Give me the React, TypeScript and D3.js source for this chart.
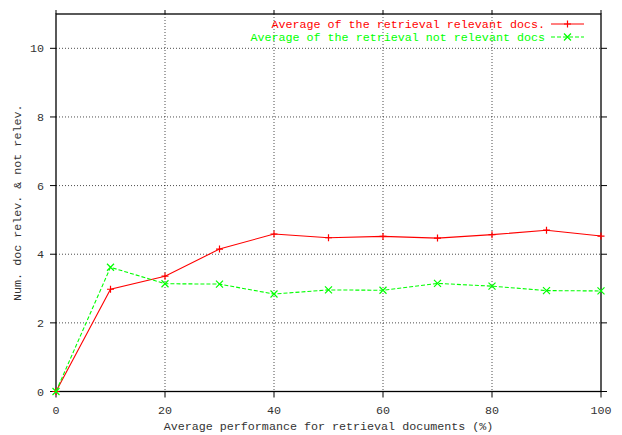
import { useEffect } from "react";
import * as d3 from "d3";

const WIDTH = 622;
const HEIGHT = 435;
const MARGIN = { top: 14, right: 21, bottom: 43.5, left: 56 };

const PERCENTS = [0, 10, 20, 30, 40, 50, 60, 70, 80, 90, 100];
const RELEVANT = [0, 2.98, 3.36, 4.15, 4.59, 4.48, 4.52, 4.47, 4.57, 4.7, 4.53];
const NOT_RELEVANT = [0, 3.62, 3.14, 3.13, 2.84, 2.96, 2.95, 3.15, 3.07, 2.94, 2.93];
const X_TICKS = [0, 20, 40, 60, 80, 100];
const Y_TICKS = [0, 2, 4, 6, 8, 10];

const SERIES = [
  { label: "Average of the retrieval relevant docs.", values: RELEVANT, color: "#ff0000", dash: "", marker: "plus" },
  { label: "Average of the retrieval not relevant docs", values: NOT_RELEVANT, color: "#00ff00", dash: "4 2", marker: "cross" }
];

const FONT = "'Liberation Mono', 'DejaVu Sans Mono', monospace";
const FONT_SIZE = 11.7;
const TEXT_COLOR = "#333";

function Marker({ x, y, kind, color }: { x: number; y: number; kind: string; color: string }) {
  const s = 3.5;
  const d =
    kind === "plus"
      ? `M${x - s},${y}H${x + s}M${x},${y - s}V${y + s}`
      : `M${x - s},${y - s}L${x + s},${y + s}M${x - s},${y + s}L${x + s},${y - s}`;
  return <path d={d} stroke={color} strokeWidth={1.2} fill="none" />;
}

export default function App() {
  useEffect(() => {
    document.body.style.margin = "0";
  }, []);

  const left = MARGIN.left;
  const right = WIDTH - MARGIN.right;
  const top = MARGIN.top;
  const bottom = HEIGHT - MARGIN.bottom;

  const x = d3.scaleLinear().domain([0, 100]).range([left, right]);
  const y = d3.scaleLinear().domain([0, 11]).range([bottom, top]);

  const line = d3
    .line<number>()
    .x((_, i) => x(PERCENTS[i]))
    .y((v) => y(v));

  return (
    <svg width={WIDTH} height={HEIGHT} style={{ display: "block", background: "#fff" }}>
      {/* grid */}
      {X_TICKS.filter((t) => t > 0 && t < 100).map((t) => (
        <line
          key={`gx${t}`}
          x1={x(t)}
          x2={x(t)}
          y1={top}
          y2={bottom}
          stroke="#000"
          strokeOpacity={0.7}
          strokeDasharray="1 2"
        />
      ))}
      {Y_TICKS.filter((t) => t > 0).map((t) => (
        <line
          key={`gy${t}`}
          x1={left}
          x2={right}
          y1={y(t)}
          y2={y(t)}
          stroke="#000"
          strokeOpacity={0.7}
          strokeDasharray="1 2"
        />
      ))}

      {/* ticks */}
      {X_TICKS.map((t) => (
        <g key={`tx${t}`}>
          <line x1={x(t)} x2={x(t)} y1={bottom} y2={bottom + 6} stroke="#000" />
          <line x1={x(t)} x2={x(t)} y1={top} y2={top - 4} stroke="#000" />
          <text
            x={x(t)}
            y={bottom + 22}
            textAnchor="middle"
            fontFamily={FONT}
            fontSize={FONT_SIZE}
            fill={TEXT_COLOR}
          >
            {t}
          </text>
        </g>
      ))}
      {Y_TICKS.map((t) => (
        <g key={`ty${t}`}>
          <line x1={left - 6} x2={left} y1={y(t)} y2={y(t)} stroke="#000" />
          <line x1={right} x2={right + 6} y1={y(t)} y2={y(t)} stroke="#000" />
          <text
            x={left - 12}
            y={y(t)}
            dy="0.35em"
            textAnchor="end"
            fontFamily={FONT}
            fontSize={FONT_SIZE}
            fill={TEXT_COLOR}
          >
            {t}
          </text>
        </g>
      ))}

      {/* frame */}
      <rect x={left} y={top} width={right - left} height={bottom - top} fill="none" stroke="#000" strokeWidth={1.3} />

      {/* series */}
      {SERIES.map((s) => (
        <g key={s.label}>
          <path d={line(s.values) ?? ""} fill="none" stroke={s.color} strokeWidth={1.1} strokeDasharray={s.dash} />
          {s.values.map((v, i) => (
            <Marker key={i} x={x(PERCENTS[i])} y={y(v)} kind={s.marker} color={s.color} />
          ))}
        </g>
      ))}

      {/* legend */}
      {SERIES.map((s, i) => {
        const ly = 24 + i * 13;
        return (
          <g key={`lg${i}`}>
            <text
              x={545}
              y={ly}
              dy="0.35em"
              textAnchor="end"
              fontFamily={FONT}
              fontSize={FONT_SIZE}
              fill={s.color}
            >
              {s.label}
            </text>
            <line x1={551} x2={584} y1={ly} y2={ly} stroke={s.color} strokeWidth={1.1} strokeDasharray={s.dash} />
            <Marker x={567.5} y={ly} kind={s.marker} color={s.color} />
          </g>
        );
      })}

      {/* axis labels */}
      <text
        x={(left + right) / 2}
        y={HEIGHT - 5}
        textAnchor="middle"
        fontFamily={FONT}
        fontSize={FONT_SIZE}
        fill={TEXT_COLOR}
      >
        Average performance for retrieval documents (%)
      </text>
      <text
        transform={`translate(17,${(top + bottom) / 2}) rotate(-90)`}
        textAnchor="middle"
        dy="0.35em"
        fontFamily={FONT}
        fontSize={FONT_SIZE}
        fill={TEXT_COLOR}
      >
        Num. doc relev. &amp; not relev.
      </text>
    </svg>
  );
}
